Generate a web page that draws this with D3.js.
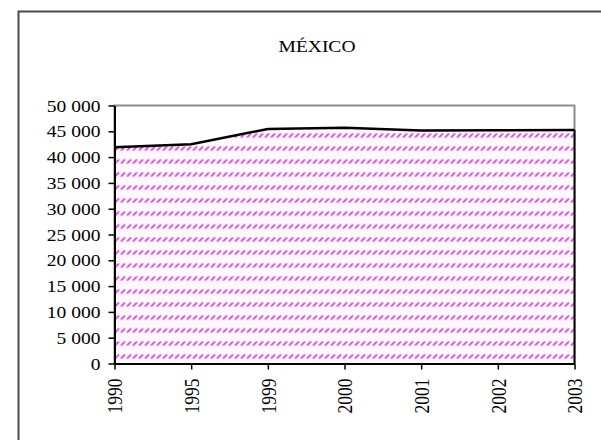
<!DOCTYPE html>
<html><head><meta charset="utf-8">
<script src="https://cdn.jsdelivr.net/npm/d3@7"></script>
<style>body{margin:0;background:#fff}svg{display:block}
text{font-family:"Liberation Serif","Times New Roman","DejaVu Serif",serif !important;}</style>
</head><body>
<svg id="c" width="601" height="440"></svg>
<script>
const title = "MÉXICO";
const years = ["1990","1995","1999","2000","2001","2002","2003"];
const values = [41900, 42500, 45450, 45700, 45150, 45200, 45250];
const yTicks = [0,5000,10000,15000,20000,25000,30000,35000,40000,45000,50000];

const svg = d3.select("#c");
const L = 114.5, R = 574.5, T = 105.5, B = 363.5;
const SX = 1.22;

// outer frame
svg.append("rect").attr("x",18.5).attr("y",11.5).attr("width",620).attr("height",460)
  .attr("fill","none").attr("stroke","#4a4a4a").attr("stroke-width",2);

// pattern
const defs = svg.append("defs");
const pat = defs.append("pattern").attr("id","hatch").attr("patternUnits","userSpaceOnUse")
  .attr("width",6).attr("height",13).attr("x",L).attr("y",B-3);
pat.append("rect").attr("width",6).attr("height",13).attr("fill","#fcf8fc");
pat.append("line").attr("x1",0.5).attr("y1",11).attr("x2",4.5).attr("y2",7)
  .attr("stroke","#d010d0").attr("stroke-width",1.4);

const x = d3.scalePoint().domain(years).range([L,R]);
const y = d3.scaleLinear().domain([0,50000]).range([B,T]);

svg.append("text").attr("transform",`translate(317,52) scale(${SX},1)`).attr("text-anchor","middle")
  .attr("font-size",16).text(title);

// plot border (gray)
svg.append("rect").attr("x",L).attr("y",T).attr("width",R-L).attr("height",B-T)
  .attr("fill","none").attr("stroke","#8c8c8c").attr("stroke-width",2);

const area = d3.area().x((d,i)=>x(years[i])).y0(B).y1(d=>y(d));
svg.append("path").datum(values).attr("d",area).attr("fill","url(#hatch)");
const line = d3.line().x((d,i)=>x(years[i])).y(d=>y(d));
svg.append("path").datum(values).attr("d",line).attr("fill","none")
  .attr("stroke","#000").attr("stroke-width",2.5);
svg.append("line").attr("x1",R).attr("x2",R).attr("y1",y(values[values.length-1])).attr("y2",B)
  .attr("stroke","#000").attr("stroke-width",2);

// axes
const yAxis = d3.axisLeft(y).tickValues(yTicks).tickSize(6).tickSizeOuter(0)
  .tickFormat(d=>d3.format(",")(d).replace(/,/g," "));
const gy = svg.append("g").attr("transform",`translate(${L},0)`).call(yAxis);
gy.select(".domain").attr("stroke","#000").attr("stroke-width",2);
gy.selectAll(".tick line").attr("stroke","#000").attr("stroke-width",1.5);
gy.selectAll("text").attr("font-size",16).attr("fill","#000").attr("x",0).attr("dy","0.35em")
  .attr("transform",`translate(-14,0) scale(${SX},1)`);

const xAxis = d3.axisBottom(x).tickSize(6).tickSizeOuter(0);
const gx = svg.append("g").attr("transform",`translate(0,${B})`).call(xAxis);
gx.select(".domain").attr("stroke","#000").attr("stroke-width",2);
gx.selectAll(".tick line").attr("stroke","#000").attr("stroke-width",1.5);
gx.selectAll("text").attr("font-size",17.5).attr("fill","#000")
  .attr("transform",`translate(0,15) scale(${SX},1) rotate(-90)`).attr("text-anchor","end")
  .attr("x",0).attr("y",0).attr("dy","0.35em");
</script>
</body></html>
